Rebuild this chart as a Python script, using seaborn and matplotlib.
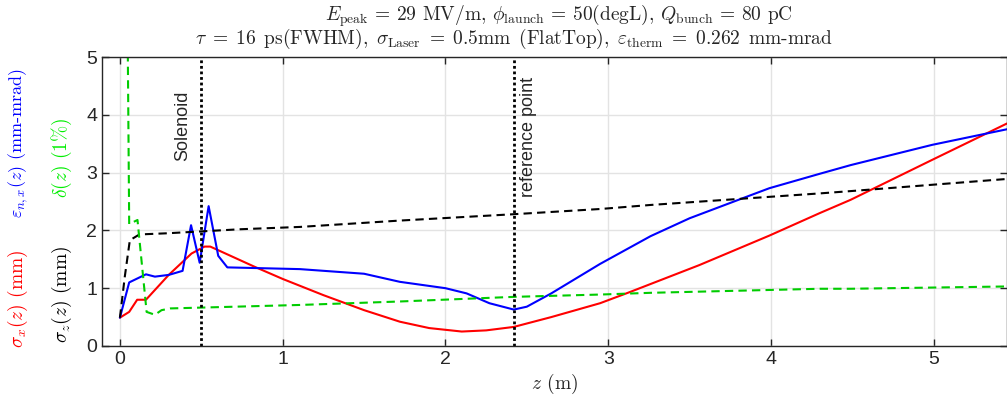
import matplotlib
matplotlib.use("Agg")
import matplotlib.pyplot as plt
import seaborn as sns

# sigma_x (mm), red
z_sx = [0, 0.057, 0.106, 0.16, 0.30, 0.44, 0.52, 0.555, 0.82, 1.0, 1.25, 1.5, 1.72, 1.9, 2.1,
        2.25, 2.42, 2.65, 2.95, 3.13, 3.56, 3.99, 4.30, 4.49, 4.99, 5.45]
sigma_x = [0.49, 0.59, 0.80, 0.80, 1.23, 1.60, 1.72, 1.72, 1.38, 1.16, 0.88, 0.62, 0.42, 0.31, 0.25,
           0.27, 0.33, 0.50, 0.74, 0.93, 1.40, 1.91, 2.30, 2.53, 3.22, 3.85]

# normalized emittance (mm-mrad), blue
z_eps = [0, 0.057, 0.16, 0.215, 0.30, 0.385, 0.437, 0.49, 0.545, 0.604, 0.66, 1.106, 1.5, 1.72,
         2.0, 2.13, 2.27, 2.42, 2.5, 2.65, 2.95, 3.26, 3.5, 3.82, 3.99, 4.30, 4.49, 4.99, 5.45]
eps_nx = [0.49, 1.10, 1.24, 1.20, 1.23, 1.30, 2.09, 1.44, 2.42, 1.56, 1.36, 1.33, 1.25, 1.11,
          1.00, 0.91, 0.74, 0.63, 0.68, 0.91, 1.42, 1.90, 2.21, 2.55, 2.73, 2.98, 3.13, 3.48, 3.75]

# sigma_z (mm), black dashed
z_sz = [0, 0.03, 0.061, 0.12, 0.29, 0.74, 1.106, 1.72, 2.42, 2.95, 3.26, 4.30, 4.49, 5.45]
sigma_z = [0.49, 1.2, 1.83, 1.93, 1.95, 2.02, 2.06, 2.17, 2.28, 2.37, 2.44, 2.64, 2.68, 2.89]

# energy spread (1%), green dashed
z_dl = [0, 0.057, 0.108, 0.164, 0.215, 0.256, 0.31, 1.106, 1.72, 2.42, 2.95, 3.26, 4.30, 4.49, 5.45]
delta = [22, 2.11, 2.18, 0.59, 0.54, 0.62, 0.65, 0.71, 0.77, 0.85, 0.89, 0.92, 0.99, 0.99, 1.03]

marker_z = [0.5, 2.42]
marker_names = ["Solenoid", "reference point"]

sns.set_theme(style="whitegrid")
plt.rcParams['font.family'] = ['Liberation Sans', 'DejaVu Sans']
plt.rcParams['mathtext.fontset'] = 'cm'
plt.rcParams['axes.unicode_minus'] = False

fig = plt.figure(figsize=(10.07, 3.97), dpi=100)
ax = fig.add_axes([0.1013, 0.1285, 0.8987, 0.7279])

dash = (0, (4, 2.5))
sns.lineplot(x=z_sx, y=sigma_x, ax=ax, color='red', lw=1.5, sort=False, estimator=None)
sns.lineplot(x=z_eps, y=eps_nx, ax=ax, color='blue', lw=1.5, sort=False, estimator=None)
sns.lineplot(x=z_sz, y=sigma_z, ax=ax, color='black', lw=1.5, linestyle=dash, sort=False, estimator=None)
sns.lineplot(x=z_dl, y=delta, ax=ax, color='#00cc00', lw=1.5, linestyle=dash, sort=False, estimator=None)

for zm in marker_z:
    ax.axvline(zm, color='black', lw=2, linestyle=(0, (1, 1)))
ax.text(0.387, 3.81, marker_names[0], rotation=90, ha='center', va='center', fontsize=13)
ax.text(2.51, 3.62, marker_names[1], rotation=90, ha='center', va='center', fontsize=13)

ax.set_xlim(-0.11, 5.45)
ax.set_ylim(0, 5)
ax.set_xticks([0, 1, 2, 3, 4, 5])
ax.set_yticks([0, 1, 2, 3, 4, 5])
ax.tick_params(direction='in', length=5, width=1, colors='#262626', labelsize=14,
               top=True, right=True, bottom=True, left=True)
ax.grid(True, color='#e3e3e3', lw=1)
for s in ax.spines.values():
    s.set_color('#262626')
    s.set_linewidth(1)
ax.set_xlabel("")
ax.set_ylabel("")

fig.text(0.551, 0.032, r"$z$ (m)", ha='center', va='center', fontsize=14, family='cmr10')

fig.text(0.018, 0.248, r"$\sigma_x(z)$ (mm)", color='red', rotation=90, ha='center', va='center',
         fontsize=14, family='cmr10')
fig.text(0.018, 0.641, r"$\varepsilon_{n,x}(z)$ (mm-mrad)", color='blue', rotation=90, ha='center',
         va='center', fontsize=13, family='cmr10')
fig.text(0.0616, 0.259, r"$\sigma_z(z)$ (mm)", color='black', rotation=90, ha='center', va='center',
         fontsize=14, family='cmr10')
fig.text(0.0616, 0.603, r"$\delta(z)$ (1%)", color='#00ee00', rotation=90, ha='center', va='center',
         fontsize=14, family='cmr10')

sp = r"$\enspace$"
line1 = r"$E_{\rm peak}$ = 29 MV/m, $\phi_{\rm launch}$ = 50(degL), $Q_{\rm bunch}$ = 80 pC"
line2 = sp.join([r"$\tau$", "=", "16", "ps(FWHM),", r"$\sigma_{\rm Laser}$", "=", "0.5mm",
                 "(FlatTop),", r"$\varepsilon_{\rm therm}$", "=", "0.262", "mm-mrad"])
fig.text(325 / 1007, 0.960, line1, ha='left', va='center', fontsize=14, family='cmr10')
fig.text(195 / 1007, 0.902, line2, ha='left', va='center', fontsize=14, family='cmr10')

fig.savefig("out.png", dpi=100)
